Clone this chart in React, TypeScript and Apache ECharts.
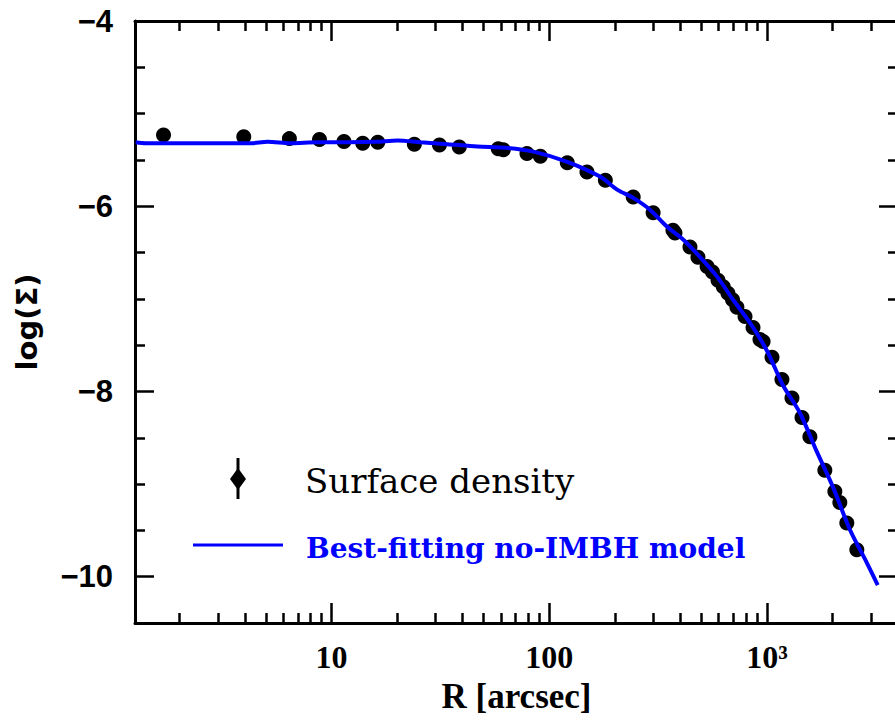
import React, { useEffect, useRef } from 'react';
import * as echarts from 'echarts';

// Surface density data (R in arcsec, log Sigma)
const radiusArcsec = [
  1.69, 3.95, 6.4, 8.8, 11.4, 13.9, 16.3, 24.0, 31.3, 38.6, 58.3, 61.5, 79, 91,
  121, 149, 181, 243, 300, 370, 378, 443, 482, 531, 562, 596, 630, 662, 695, 728,
  793, 863, 929, 960, 1055, 1172, 1303, 1449, 1575, 1845, 2051, 2162, 2328, 2588,
];
const logSigma = [
  -5.23, -5.25, -5.27, -5.28, -5.30, -5.32, -5.31, -5.33, -5.34, -5.36, -5.38, -5.39, -5.43, -5.46,
  -5.53, -5.63, -5.72, -5.90, -6.07, -6.26, -6.29, -6.44, -6.55, -6.65, -6.71, -6.80, -6.87, -6.94, -7.01, -7.09,
  -7.19, -7.31, -7.44, -7.46, -7.63, -7.87, -8.07, -8.28, -8.49, -8.85, -9.08, -9.20, -9.42, -9.71,
];

// Best-fitting no-IMBH model
const modelRadius = [
  1.26, 1.4, 2.2, 4.25, 5.08, 6.48, 8.63, 12, 16, 20.1, 25.6, 34.0, 46.7, 64.2, 84.5,
  121, 171, 205, 243, 291, 347, 412, 493, 590, 699, 836, 1000, 1183, 1416, 1695, 2009,
  2403, 2877, 3228,
];
const modelLogSigma = [
  -5.31, -5.32, -5.32, -5.32, -5.305, -5.32, -5.31, -5.31, -5.305, -5.29, -5.31, -5.33, -5.355, -5.37, -5.41,
  -5.52, -5.68, -5.82, -5.91, -6.04, -6.22, -6.36, -6.55, -6.76, -7.01, -7.26, -7.56, -7.93, -8.23, -8.65, -9.03,
  -9.49, -9.85, -10.09,
];

const xMajorTicks = [10, 100, 1000];
const xTickLabels = ['10', '100', '10³'];
const xMinorTicks = [2, 3, 4, 5, 6, 7, 8, 9, 20, 30, 40, 50, 60, 70, 80, 90, 200, 300, 400, 500, 600, 700, 800, 900, 2000, 3000];
const yMajorTicks = [-10, -8, -6, -4];
const yMinorTicks = [-10.5, -9.5, -9, -8.5, -7.5, -7, -6.5, -5.5, -5, -4.5];

const X_MIN = 1.25;
const X_MAX = 4000;
const Y_MIN = -10.5;
const Y_MAX = -4;

const SERIF = "'Liberation Serif', 'DejaVu Serif', serif";
const SANS = "'Liberation Sans', 'DejaVu Sans', sans-serif";
const LEGEND_FONT = "'DejaVu Serif', 'Liberation Serif', serif";

export default function App() {
  const ref = useRef<HTMLDivElement>(null);

  useEffect(() => {
    if (!ref.current) return;
    const chart = echarts.init(ref.current, undefined, { renderer: 'svg' });
    const lg = (v: number) => Math.log10(v);
    const xMin = lg(X_MIN);
    const xMax = lg(X_MAX);
    const black = '#000000';

    const xAxisBase = (position: 'top' | 'bottom', showLine: boolean, ticks: number[], len: number, labels: boolean) => ({
      type: 'value',
      position,
      min: xMin,
      max: xMax,
      splitLine: { show: false },
      axisLine: { show: showLine, onZero: false, lineStyle: { color: black, width: 3 } },
      axisTick: { show: true, inside: true, length: len, customValues: ticks.map(lg), lineStyle: { color: black, width: 2.5 } },
      axisLabel: labels
        ? {
            show: true,
            customValues: xMajorTicks.map(lg),
            margin: 18,
            color: black,
            fontFamily: SERIF,
            fontWeight: 'bold',
            fontSize: 32,
            formatter: (v: number) => xTickLabels[Math.round(v) - 1] ?? '',
          }
        : { show: false },
    });

    const yAxisBase = (position: 'left' | 'right', showLine: boolean, ticks: number[], len: number, labels: boolean) => ({
      type: 'value',
      position,
      min: Y_MIN,
      max: Y_MAX,
      splitLine: { show: false },
      axisLine: { show: showLine, onZero: false, lineStyle: { color: black, width: 3 } },
      axisTick: { show: true, inside: true, length: len, customValues: ticks, lineStyle: { color: black, width: 2.5 } },
      axisLabel: labels
        ? {
            show: true,
            customValues: yMajorTicks,
            margin: 22,
            color: black,
            fontFamily: SANS,
            fontWeight: 'bold',
            fontSize: 31,
            formatter: (v: number) => (v < 0 ? '\u2212' + Math.abs(v) : String(v)),
          }
        : { show: false },
    });

    const xBottom: any = xAxisBase('bottom', true, xMajorTicks, 20, true);
    xBottom.name = 'R [arcsec]';
    xBottom.nameLocation = 'middle';
    xBottom.nameGap = 56;
    xBottom.nameTextStyle = { fontFamily: SERIF, fontWeight: 'bold', fontSize: 35, color: black };

    const yLeft: any = yAxisBase('left', true, yMajorTicks, 19, true);
    yLeft.name = 'log(Σ)';
    yLeft.nameLocation = 'middle';
    yLeft.nameGap = 94;
    yLeft.nameTextStyle = { fontFamily: "'DejaVu Sans', sans-serif", fontWeight: 'bold', fontSize: 29, color: black };

    chart.setOption({
      animation: false,
      backgroundColor: '#ffffff',
      grid: { left: 135, right: 7, top: 21, bottom: 103, containLabel: false },
      xAxis: [
        xBottom,
        xAxisBase('bottom', false, xMinorTicks, 10, false),
        xAxisBase('top', true, xMajorTicks, 20, false),
        xAxisBase('top', false, xMinorTicks, 10, false),
      ],
      yAxis: [
        yLeft,
        yAxisBase('left', false, yMinorTicks, 10, false),
        yAxisBase('right', true, yMajorTicks, 19, false),
        yAxisBase('right', false, yMinorTicks, 10, false),
      ],
      series: [
        {
          name: 'Surface density',
          type: 'scatter',
          xAxisIndex: 0,
          yAxisIndex: 0,
          symbol: 'circle',
          symbolSize: 15,
          itemStyle: { color: black, opacity: 1 },
          data: radiusArcsec.map((r, i) => [lg(r), logSigma[i]]),
          z: 2,
        },
        {
          name: 'Best-fitting no-IMBH model',
          type: 'line',
          xAxisIndex: 0,
          yAxisIndex: 0,
          showSymbol: false,
          symbol: 'none',
          smooth: 0.3,
          lineStyle: { color: '#0000ff', width: 4 },
          data: modelRadius.map((r, i) => [lg(r), modelLogSigma[i]]),
          z: 3,
        },
      ],
      graphic: [
        { type: 'line', shape: { x1: 238, y1: 458, x2: 238, y2: 499 }, style: { stroke: black, lineWidth: 3 } },
        { type: 'polygon', shape: { points: [[238, 468], [246, 479], [238, 490], [230, 479]] }, style: { fill: black } },
        {
          type: 'text',
          x: 305,
          y: 481,
          style: { text: 'Surface density', fill: black, fontFamily: LEGEND_FONT, fontSize: 34, verticalAlign: 'middle', align: 'left' },
        },
        { type: 'line', shape: { x1: 193, y1: 545, x2: 283, y2: 545 }, style: { stroke: '#0000ff', lineWidth: 3 } },
        {
          type: 'text',
          x: 306,
          y: 548,
          style: {
            text: 'Best-fitting no-IMBH model',
            fill: '#0000ff',
            fontFamily: LEGEND_FONT,
            fontWeight: 'bold',
            fontSize: 28,
            verticalAlign: 'middle',
            align: 'left',
          },
        },
      ],
    });

    return () => chart.dispose();
  }, []);

  return (
    <div style={{ position: 'fixed', left: 0, top: 0, width: 895, height: 726, overflow: 'hidden', background: '#fff' }}>
      <div ref={ref} style={{ position: 'absolute', left: 0, top: 0, width: 905, height: 726 }} />
    </div>
  );
}
